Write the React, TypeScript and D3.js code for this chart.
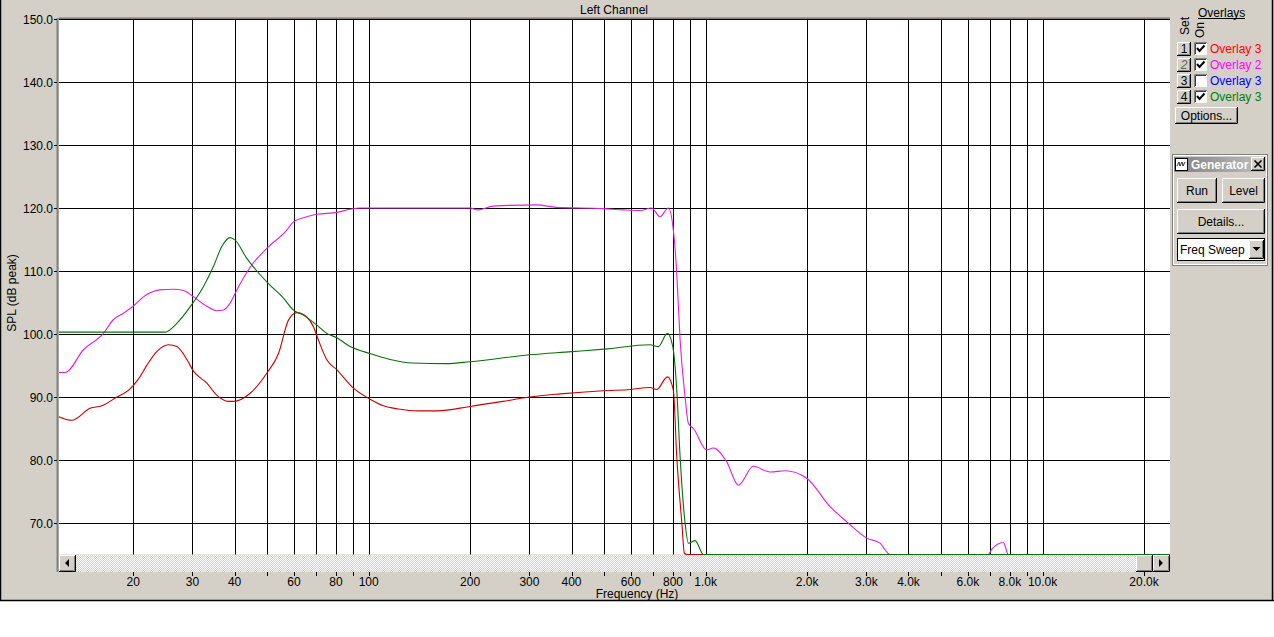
import React from "react";
import * as d3 from "d3";

// ---------- data ----------
const yTicks = [70, 80, 90, 100, 110, 120, 130, 140, 150];
const xGrid = [20, 30, 40, 50, 60, 70, 80, 90, 100, 200, 300, 400, 500, 600, 700, 800, 900, 1000, 2000, 3000, 4000, 5000, 6000, 7000, 8000, 9000, 10000, 20000];
const xLabels: [number, string][] = [
  [20, "20"], [30, "30"], [40, "40"], [60, "60"], [80, "80"], [100, "100"],
  [200, "200"], [300, "300"], [400, "400"], [600, "600"], [800, "800"],
  [1000, "1.0k"], [2000, "2.0k"], [3000, "3.0k"], [4000, "4.0k"], [6000, "6.0k"],
  [8000, "8.0k"], [10000, "10.0k"], [20000, "20.0k"],
];

const redFreq = [12.0, 13.15, 14.9, 16.15, 17.9, 19.4, 20.7, 22.0, 23.5, 25.45, 26.96, 28.9, 30.2, 33.1, 35.4, 38.35, 39.7, 44.5, 49.9, 54.0, 57.8, 61.2, 65.5, 68.5, 71.0, 75.1, 80.5, 90.1, 99.8, 110.6, 122.5, 140, 160, 200, 250, 300, 370, 496, 600, 684, 716, 770, 802, 821, 850, 865, 880, 24000];
const redDb = [86.9, 86.3, 88.2, 88.6, 90.0, 91.1, 92.8, 95.1, 97.2, 98.3, 98.0, 95.9, 94.1, 92.2, 90.3, 89.3, 89.3, 90.6, 93.8, 96.9, 102.2, 103.4, 102.7, 101.2, 99.0, 95.9, 94.3, 91.4, 89.8, 88.6, 88.1, 87.8, 87.8, 88.5, 89.3, 90.0, 90.5, 91.0, 91.2, 91.5, 91.2, 93.2, 91.1, 80.5, 70.0, 65.2, 60, 60];

const magFreq = [12.0, 12.57, 14.24, 16.33, 17.48, 18.72, 20.0, 21.46, 24.05, 26.34, 28.2, 30.2, 33.08, 35.43, 37.07, 38.8, 40.62, 44.49, 49.86, 57.17, 59.8, 65.53, 70.17, 80.47, 88.1, 94.3, 150, 200, 211, 234, 316, 360, 496, 569, 639, 692, 732, 775, 802, 821, 840, 869, 889, 920, 1008, 1054, 1155, 1251, 1386, 1554, 1721, 1996, 2340, 2623, 3007, 3293, 3527, 3650, 6750, 6902, 7063, 7648, 7914, 8050, 24000];
const magDb = [93.9, 93.9, 97.5, 100.1, 102.3, 103.3, 104.4, 105.9, 107.0, 107.1, 106.9, 105.9, 104.4, 103.7, 103.8, 104.9, 107.0, 110.6, 113.6, 116.5, 117.8, 118.6, 119.0, 119.3, 119.8, 120.0, 120.0, 120.0, 119.7, 120.3, 120.5, 120.1, 119.9, 119.7, 119.6, 120.0, 118.6, 120.0, 116.5, 109.6, 99.0, 90.0, 85.8, 85.0, 81.6, 81.9, 79.7, 76.0, 79.0, 78.1, 78.3, 77.1, 72.6, 70.2, 67.6, 66.8, 65.0, 60, 60, 65.0, 65.8, 66.9, 65.0, 60, 60];

const grnFreq = [12.0, 24.9, 26.96, 29.52, 32.32, 34.61, 36.66, 38.8, 40.15, 43.49, 46.58, 50.42, 55.85, 59.8, 64.03, 70.17, 75.13, 80.47, 88.1, 100.9, 115, 135, 170, 200, 300, 400, 500, 684, 724, 770, 799, 821, 840, 869, 889, 931, 985, 24000];
const grnDb = [100.3, 100.3, 101.7, 104.3, 107.5, 110.7, 113.9, 115.3, 114.9, 112.0, 110.0, 108.0, 105.7, 103.8, 103.0, 101.4, 100.1, 99.4, 98.0, 96.9, 96.0, 95.4, 95.3, 95.6, 96.7, 97.2, 97.6, 98.3, 98.0, 100.1, 98.0, 91.1, 80.5, 70.0, 66.8, 67.2, 65.0, 65.0];

const overlayNames = ["Overlay 3", "Overlay 2", "Overlay 3", "Overlay 3"];
const overlayColors = ["#ff0000", "#ff00ff", "#0000ff", "#008000"];
const overlayOn = [true, true, false, true];

// ---------- layout ----------
const W = 1274, H = 637;
const PL = 59, PR = 1170, PT = 19, PB = 554.5;
const BG = "#d4d0c8";
const FONT = "'Liberation Sans', Arial, sans-serif";

const x = d3.scaleLog().domain([12.05, 23886]).range([PL, PR]);
const y = d3.scaleLinear().domain([65, 150]).range([PB, PT]).clamp(true);

function makePath(fs: number[], ds: number[]) {
  const pts = fs.map((f, i) => [f, ds[i]] as [number, number]);
  return d3.line<[number, number]>().x(d => x(d[0])).y(d => y(d[1])).curve(d3.curveMonotoneX)(pts) || "";
}

function Btn({ bx, by, w, h, children }: { bx: number; by: number; w: number; h: number; children?: React.ReactNode }) {
  return (
    <g>
      <rect x={bx} y={by} width={w} height={h} fill={BG} />
      <polyline points={`${bx + 0.5},${by + h - 1} ${bx + 0.5},${by + 0.5} ${bx + w - 1},${by + 0.5}`} fill="none" stroke="#fff" />
      <polyline points={`${bx + 1},${by + h - 1.5} ${bx + w - 1.5},${by + h - 1.5} ${bx + w - 1.5},${by + 1}`} fill="none" stroke="#808080" />
      <polyline points={`${bx},${by + h - 0.5} ${bx + w - 0.5},${by + h - 0.5} ${bx + w - 0.5},${by}`} fill="none" stroke="#000" />
      {children}
    </g>
  );
}

export default function App() {
  const red = makePath(redFreq, redDb);
  const mag = makePath(magFreq, magDb);
  const grn = makePath(grnFreq, grnDb);
  return (
    <svg width={W} height={H} style={{ position: "absolute", left: 0, top: 0, background: "#fff" }} fontFamily={FONT} fontSize={12}>
      <defs>
        <pattern id="dither" width="2" height="2" patternUnits="userSpaceOnUse">
          <rect width="2" height="2" fill={BG} />
          <rect width="1" height="1" fill="#fff" />
          <rect x="1" y="1" width="1" height="1" fill="#fff" />
        </pattern>
        <clipPath id="plotClip"><rect x={PL} y={PT} width={PR - PL} height={PB - PT + 0.5} /></clipPath>
        <linearGradient id="tb" x1="0" x2="1" y1="0" y2="0">
          <stop offset="0" stopColor="#808080" />
          <stop offset="1" stopColor="#c0c0c0" />
        </linearGradient>
        <clipPath id="tbClip"><rect x={1174} y={157} width={76} height={15} /></clipPath>
      </defs>
      {/* window background */}
      <rect x={0} y={0} width={1274} height={601} fill={BG} />
      <line x1={0.5} y1={0} x2={0.5} y2={601} stroke="#000" strokeWidth={1.5} />
      <line x1={0} y1={600.5} x2={1274} y2={600.5} stroke="#000" strokeWidth={1.5} />
      <line x1={1272.5} y1={0} x2={1272.5} y2={601} stroke="#000" strokeWidth={1.5} />

      {/* title */}
      <line x1={59} y1={17.5} x2={1170} y2={17.5} stroke="#a0a0a0" />
      <text x={614} y={14} textAnchor="middle" fill="#000">Left Channel</text>

      {/* plot area */}
      <rect x={PL} y={PT} width={PR - PL} height={PB - PT} fill="#fff" />
      <line x1={57.5} y1={18} x2={57.5} y2={572} stroke="#808080" strokeWidth={2} />
      <line x1={57} y1={18.5} x2={PR} y2={18.5} stroke="#808080" />

      {xGrid.map(f => (
        <line key={"gx" + f} x1={Math.round(x(f)) + 0.5} x2={Math.round(x(f)) + 0.5} y1={PT} y2={PB} stroke="#000" />
      ))}
      {yTicks.map(v => (
        <line key={"gy" + v} x1={PL} x2={PR} y1={Math.round(y(v)) + 0.5} y2={Math.round(y(v)) + 0.5} stroke="#000" />
      ))}

      <g clipPath="url(#plotClip)" fill="none" strokeWidth={1.1}>
        <path d={red} stroke="#cc0000" />
        <path d={mag} stroke="#e020e0" />
        <path d={grn} stroke="#0a700a" />
      </g>

      {/* y labels */}
      {yTicks.map(v => (
        <g key={"yl" + v}>
          <text x={53} y={y(v) + 4.5} textAnchor="end" fill="#000">{v.toFixed(1)}</text>
          <line x1={54} x2={57} y1={Math.round(y(v)) + 0.5} y2={Math.round(y(v)) + 0.5} stroke="#000" />
        </g>
      ))}
      <text transform="translate(16,293) rotate(-90)" textAnchor="middle" fill="#000">SPL (dB peak)</text>

      {/* scrollbar */}
      <rect x={PL} y={555} width={PR - PL} height={17} fill="url(#dither)" />
      <Btn bx={59} by={555} w={17} h={17}>
        <path d="M69,559 L65,563 L69,567 Z" fill="#000" />
      </Btn>
      <Btn bx={1136} by={555} w={17} h={17} />
      <Btn bx={1153} by={555} w={17} h={17}>
        <path d="M1159,559 L1163,563 L1159,567 Z" fill="#000" />
      </Btn>

      {/* x ticks */}
      {xGrid.map(f => (
        <line key={"tx" + f} x1={Math.round(x(f)) + 0.5} x2={Math.round(x(f)) + 0.5} y1={572} y2={576} stroke="#000" />
      ))}
      {xLabels.map(([f, s]) => (
        <text key={"xl" + f} x={x(f)} y={586} textAnchor="middle" fill="#000">{s}</text>
      ))}
      <text x={637} y={597.5} textAnchor="middle" fill="#000">Frequency (Hz)</text>

      {/* overlays panel */}
      <text x={1198} y={17} fill="#000">Overlays</text>
      <line x1={1198} x2={1245} y1={18.5} y2={18.5} stroke="#000" />
      <text transform="translate(1189,26) rotate(-90)" textAnchor="middle" fill="#000">Set</text>
      <text transform="translate(1204,30) rotate(-90)" textAnchor="middle" fill="#000">On</text>
      {overlayNames.map((nm, i) => {
        const ry = 42 + i * 16;
        return (
          <g key={"ov" + i}>
            <Btn bx={1177} by={ry} w={14} h={14}>
              <text x={1184} y={ry + 11} textAnchor="middle" fill={i === 1 ? "#606060" : "#000"} fontStyle={i === 1 ? "italic" : "normal"}>{i + 1}</text>
            </Btn>
            <rect x={1194} y={ry} width={13} height={13} fill="#fff" />
            <polyline points={`${1194.5},${ry + 13} ${1194.5},${ry + 0.5} ${1207},${ry + 0.5}`} fill="none" stroke="#808080" />
            <polyline points={`${1195.5},${ry + 12} ${1195.5},${ry + 1.5} ${1206},${ry + 1.5}`} fill="none" stroke="#404040" />
            {overlayOn[i] && (
              <path d={`M${1197},${ry + 6} L${1199.5},${ry + 9} L${1204.5},${ry + 3.5}`} fill="none" stroke="#000" strokeWidth={2} />
            )}
            <text x={1210} y={ry + 11} fill={overlayColors[i]}>{nm}</text>
          </g>
        );
      })}
      <Btn bx={1175} by={107} w={63} h={17}>
        <text x={1206.5} y={120} textAnchor="middle" fill="#000">Options...</text>
      </Btn>

      {/* generator panel */}
      <rect x={1172.5} y={154.5} width={95} height={111} fill={BG} stroke="#808080" />
      <rect x={1173.5} y={155.5} width={93} height={109} fill="none" stroke="#fff" />
      <rect x={1174} y={157} width={92} height={15} fill="url(#tb)" />
      <rect x={1175.5} y={158.5} width={12} height={12} fill="#fff" stroke="#000" />
      <path d="M1177,166 L1179,162 L1180,166 L1182,162 L1183,166 L1185,162" fill="none" stroke="#000" strokeWidth={0.8} />
      <text x={1191} y={168.5} fill="#fff" fontWeight="bold" clipPath="url(#tbClip)">Generator</text>
      <Btn bx={1251} by={157} w={14} h={14}>
        <path d="M1254.5,160.5 L1261.5,167.5 M1261.5,160.5 L1254.5,167.5" stroke="#000" strokeWidth={1.6} />
      </Btn>
      <Btn bx={1177} by={178} w={40} h={25}>
        <text x={1197} y={195} textAnchor="middle" fill="#000">Run</text>
      </Btn>
      <Btn bx={1222} by={178} w={43} h={25}>
        <text x={1243.5} y={195} textAnchor="middle" fill="#000">Level</text>
      </Btn>
      <Btn bx={1177} by={209} w={88} h={25}>
        <text x={1221} y={226} textAnchor="middle" fill="#000">Details...</text>
      </Btn>
      <rect x={1177.5} y={238.5} width={87} height={22} fill="#fff" stroke="#000" />
      <text x={1180} y={254} fill="#000">Freq Sweep</text>
      <Btn bx={1249} by={240} w={15} h={19}>
        <path d="M1252.5,247 L1260.5,247 L1256.5,251 Z" fill="#000" />
      </Btn>
    </svg>
  );
}
